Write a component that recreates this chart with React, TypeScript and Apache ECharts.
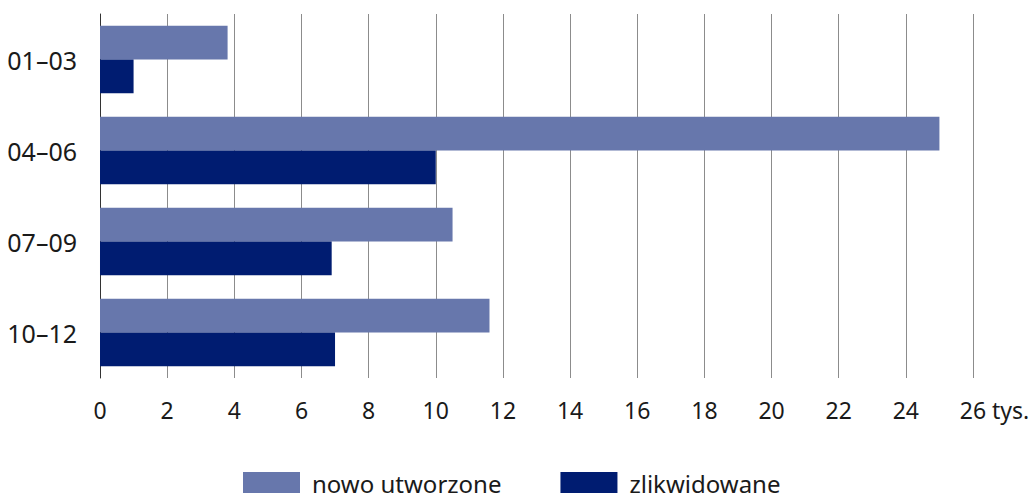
import React, { useEffect, useRef } from "react";
import * as echarts from "echarts";

const categories = ["01–03", "04–06", "07–09", "10–12"];
const seriesNames = ["nowo utworzone", "zlikwidowane"];
const newlyCreated = [3.8, 25.0, 10.5, 11.6];
const liquidated = [1.0, 10.0, 6.9, 7.0];
const xMin = 0;
const xMax = 26;
const xInterval = 2;
const unitLabel = " tys.";

export default function App() {
  const ref = useRef<HTMLDivElement>(null);
  useEffect(() => {
    if (!ref.current) return;
    const chart = echarts.init(ref.current, null, { renderer: "svg" });
    const font = "'Noto Sans', 'Open Sans', sans-serif";
    chart.setOption({
      animation: false,
      textStyle: { fontFamily: font },
      grid: { left: 100, right: 61, top: 14, bottom: 115, containLabel: false },
      legend: {
        data: seriesNames,
        left: 243,
        top: 471,
        padding: 0,
        icon: "rect",
        itemWidth: 57,
        itemHeight: 22,
        itemGap: 59,
        textStyle: {
          fontSize: 24,
          lineHeight: 20,
          color: "#1a1a1a",
          fontFamily: font,
          padding: [0, 0, 4, 7],
        },
      },
      xAxis: {
        type: "value",
        min: xMin,
        max: xMax,
        interval: xInterval,
        axisLine: { show: false },
        axisTick: { show: false },
        splitLine: { show: true, lineStyle: { color: "#8c8c8c", width: 1 } },
        axisLabel: {
          fontSize: 23,
          color: "#1a1a1a",
          margin: 20,
          fontFamily: font,
          formatter: (v: number) => (v === xMax ? "{p|}" + v + unitLabel : String(v)),
          rich: { p: { width: 43, fontSize: 23 } },
        },
      },
      yAxis: {
        type: "category",
        data: categories,
        inverse: true,
        axisLine: { show: true, lineStyle: { color: "#333333", width: 1 } },
        axisTick: { show: false },
        axisLabel: { fontSize: 25, color: "#1a1a1a", margin: 23, fontFamily: font },
      },
      series: [
        {
          name: seriesNames[0],
          type: "bar",
          data: newlyCreated,
          barGap: "0%",
          barCategoryGap: "26%",
          itemStyle: { color: "#6777ac" },
        },
        {
          name: seriesNames[1],
          type: "bar",
          data: liquidated,
          barGap: "0%",
          barCategoryGap: "26%",
          itemStyle: { color: "#001c71" },
        },
      ],
    });
    return () => chart.dispose();
  }, []);
  return (
    <div
      ref={ref}
      style={{ position: "fixed", left: 0, top: 0, width: 1034, height: 493, background: "#fff" }}
    />
  );
}
